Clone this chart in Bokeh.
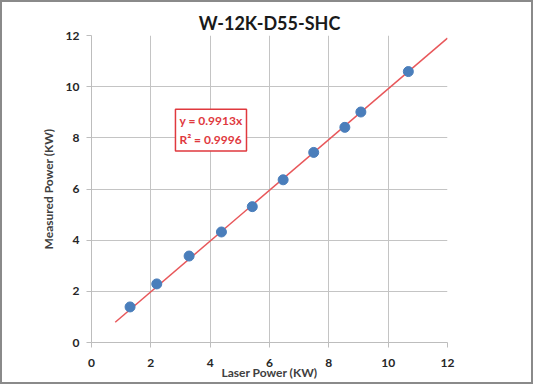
from bokeh.plotting import figure
from bokeh.models import Range1d, FixedTicker, Label, Title
from bokeh.embed import file_html
from bokeh.resources import INLINE

title_text = "W-12K-D55-SHC"
x_label = "Laser Power (KW)"
y_label = "Measured Power (KW)"

laser_power = [1.30, 2.20, 3.29, 4.38, 5.42, 6.46, 7.49, 8.54, 9.08, 10.68]
measured_power = [1.39, 2.29, 3.38, 4.32, 5.31, 6.36, 7.43, 8.41, 9.01, 10.59]

slope = 0.9913
r_squared = 0.9996
trend_x = [0.8, 12.0]
trend_y = [slope * v for v in trend_x]

ticks = [0, 2, 4, 6, 8, 10, 12]

FONT = "Lato"

p = figure(width=533, height=383, output_backend="svg", toolbar_location=None,
           x_range=Range1d(0, 12), y_range=Range1d(0, 12),
           frame_width=356, frame_height=307,
           min_border_left=89, min_border_right=84, min_border_top=33, min_border_bottom=39)
p.title = Title(text=title_text, align="center", text_font=FONT, text_font_size="18px",
                text_font_style="bold", text_color="#1a1a1a", offset=-3, standoff=4)
p.background_fill_color = "white"
p.border_fill_color = "white"
p.outline_line_color = None
p.styles = {"border": "2px solid #8a8a8a", "box-sizing": "border-box"}

for ax in (p.xaxis, p.yaxis):
    ax.ticker = FixedTicker(ticks=ticks)
    ax.axis_line_color = "#bdbdbd"
    ax.major_tick_line_color = "#bdbdbd"
    ax.major_tick_out = 5
    ax.major_tick_in = 0
    ax.minor_tick_line_color = None
    ax.major_label_text_font = FONT
    ax.major_label_text_font_size = "12px"
    ax.major_label_text_font_style = "bold"
    ax.major_label_text_color = "#262626"
    ax.axis_label_text_font = FONT
    ax.axis_label_text_font_size = "12px"
    ax.axis_label_text_font_style = "bold"
    ax.axis_label_text_color = "#404040"
p.xaxis.axis_label = x_label
p.yaxis.axis_label = y_label
p.xaxis.major_label_standoff = 11
p.yaxis.major_label_standoff = 7
p.xaxis.axis_label_standoff = -5
p.yaxis.axis_label_standoff = 7

p.grid.grid_line_color = "#c4c4c4"
p.grid.grid_line_width = 1
p.xgrid.ticker = FixedTicker(ticks=ticks)
p.ygrid.ticker = FixedTicker(ticks=ticks)

p.line(trend_x, trend_y, line_color="#e8575a", line_width=1.5)
p.scatter(laser_power, measured_power, size=10, fill_color="#4a7ebb", line_color="#4a7ebb")

eq = Label(x=2.83, y=9.12, anchor="top_left",
           text=f"y = {slope}x\nR\u00b2 = {r_squared}",
           text_font=FONT, text_font_size="12px", text_font_style="bold",
           text_color="#e0393e", text_line_height=1.25,
           padding=4, border_line_color="#e0393e", border_line_width=1.5,
           background_fill_color="white")
p.add_layout(eq)

open("out.html", "w").write(file_html(p, INLINE))
